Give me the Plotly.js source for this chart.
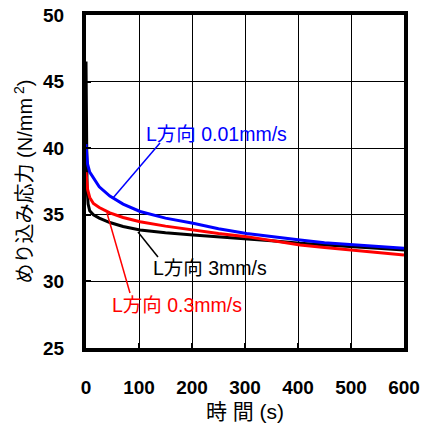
<!DOCTYPE html>
<html>
<head>
<meta charset="utf-8">
<script src="https://cdn.plot.ly/plotly-3.0.1.min.js"></script>
<style>html,body{margin:0;padding:0;background:#fff;}#chart{width:421px;height:428px;}</style>
</head>
<body>
<div id="chart"></div>
<script>
const timeBlack = [0, 0.5, 1, 2, 4, 7, 14, 25, 45, 70, 102, 150, 202, 250, 303, 350, 404, 450, 504, 550, 600];
const stress3 = [46.5, 43, 39, 37, 35.8, 35.3, 35.0, 34.75, 34.42, 34.12, 33.86, 33.65, 33.48, 33.35, 33.23, 33.05, 32.86, 32.72, 32.6, 32.48, 32.36];
const timeColor = [0, 1, 3, 7, 14, 25, 45, 70, 102, 150, 202, 250, 303, 350, 404, 450, 504, 550, 600];
const stress001 = [40.3, 39.6, 38.8, 38.2, 37.8, 37.1, 36.4, 35.8, 35.25, 34.75, 34.36, 33.95, 33.6, 33.35, 33.1, 32.9, 32.73, 32.6, 32.48];
const stress03 = [38.2, 37.6, 36.9, 36.3, 35.85, 35.55, 35.15, 34.8, 34.48, 34.15, 33.86, 33.6, 33.36, 33.05, 32.73, 32.55, 32.36, 32.18, 31.98];
const labels = ["L方向 0.01mm/s", "L方向 3mm/s", "L方向 0.3mm/s"];
const xTicks = [0, 100, 200, 300, 400, 500, 600];
const yTicks = [25, 30, 35, 40, 45, 50];

const FF = "Liberation Sans, Arial, Noto Sans CJK JP, sans-serif";
const traces = [
  {x: timeBlack, y: stress3, mode: 'lines', line: {color: '#000000', width: 3}},
  {x: timeColor, y: stress03, mode: 'lines', line: {color: '#ff0000', width: 3}},
  {x: timeColor, y: stress001, mode: 'lines', line: {color: '#0000ff', width: 3}}
];
const layout = {
  width: 421, height: 428,
  margin: {l: 86, r: 17, t: 15, b: 80},
  paper_bgcolor: '#fff', plot_bgcolor: '#fff',
  showlegend: false,
  font: {family: FF, color: '#000'},
  xaxis: {
    range: [0, 600], tickvals: xTicks, ticktext: xTicks.map(String),
    showgrid: true, gridcolor: '#000', gridwidth: 1,
    showline: true, linecolor: '#000', linewidth: 4, mirror: true,
    ticks: 'inside', ticklen: 5, tickwidth: 2, tickcolor: '#000',
    ticklabelstandoff: 19,
    tickfont: {size: 19, family: FF, weight: 'bold', color: '#000'},
    zeroline: false,
    title: {text: '時 間 (s)', font: {size: 21, family: FF, color: '#000'}, standoff: 9}
  },
  yaxis: {
    range: [25, 50], tickvals: yTicks, ticktext: yTicks.map(String),
    showgrid: true, gridcolor: '#000', gridwidth: 1,
    showline: true, linecolor: '#000', linewidth: 4, mirror: true,
    ticks: 'inside', ticklen: 5, tickwidth: 2, tickcolor: '#000',
    ticklabelstandoff: 14,
    tickfont: {size: 19, family: FF, weight: 'bold', color: '#000'},
    zeroline: false,
    title: {text: 'めり込み応力 (N/mm<sup> 2</sup>)', font: {size: 20, family: FF, color: '#000'}, standoff: 6}
  },
  annotations: [
    {x: 247, y: 41.07, text: labels[0], showarrow: false, font: {size: 19.5, color: '#0000ff', family: FF}},
    {x: 234, y: 31.0, text: labels[1], showarrow: false, font: {size: 19.5, color: '#000000', family: FF}},
    {x: 172, y: 28.23, text: labels[2], showarrow: false, font: {size: 19.5, color: '#ff0000', family: FF}}
  ],
  shapes: [
    {type: 'line', x0: 139.6, y0: 40.39, x1: 50.9, y1: 36.26, line: {color: '#0000ff', width: 1.5}},
    {type: 'line', x0: 135.8, y0: 31.83, x1: 98.1, y1: 33.71, line: {color: '#000000', width: 1.5}},
    {type: 'line', x0: 83, y0: 29.13, x1: 39.6, y1: 35.14, line: {color: '#ff0000', width: 1.5}}
  ]
};
Plotly.newPlot('chart', traces, layout, {displayModeBar: false, staticPlot: true});
</script>
</body>
</html>
